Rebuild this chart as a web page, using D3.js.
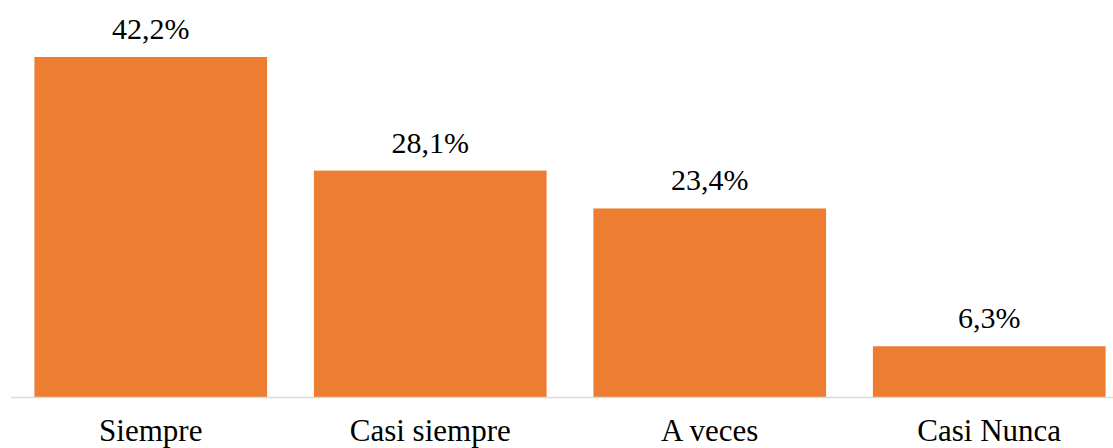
<!DOCTYPE html>
<html>
<head>
<meta charset="utf-8">
<script src="https://cdn.jsdelivr.net/npm/d3@7"></script>
<style>
  html, body { margin: 0; padding: 0; background: #fff; overflow: hidden; }
  svg { display: block; }
  .lbl { font-family: "Liberation Serif", serif; fill: #000; }
</style>
</head>
<body>
<script>
// Frequency distribution of responses (percent)
const categories = ["Siempre", "Casi siempre", "A veces", "Casi Nunca"];
const values = [42.2, 28.1, 23.4, 6.3];
const valueLabels = ["42,2%", "28,1%", "23,4%", "6,3%"];

const W = 1113, H = 448;
const baseY = 397;

const svg = d3.select("body").append("svg")
  .attr("width", W).attr("height", H);

const x = d3.scaleBand()
  .domain(categories)
  .range([11, 1129])
  .paddingInner(0.1675)
  .paddingOuter(0.08375);

const y = d3.scaleLinear()
  .domain([0, 42.2])
  .range([baseY, 57]);

// bars
svg.selectAll("rect.bar")
  .data(values)
  .join("rect")
  .attr("class", "bar")
  .attr("x", (d, i) => x(categories[i]))
  .attr("width", x.bandwidth())
  .attr("y", d => y(d))
  .attr("height", d => baseY - y(d))
  .attr("fill", "#ED7D31");

// baseline
svg.append("line")
  .attr("x1", 11).attr("x2", W)
  .attr("y1", baseY + 0.5).attr("y2", baseY + 0.5)
  .attr("stroke", "#d9d9d9")
  .attr("stroke-width", 1.3);

// value labels above bars
svg.selectAll("text.val")
  .data(values)
  .join("text")
  .attr("class", "val lbl")
  .attr("x", (d, i) => x(categories[i]) + x.bandwidth() / 2)
  .attr("y", d => y(d) - 18)
  .attr("text-anchor", "middle")
  .style("font-family", '"Liberation Serif"')
  .style("font-size", "30px")
  .text((d, i) => valueLabels[i]);

// category labels under the baseline
svg.selectAll("text.cat")
  .data(categories)
  .join("text")
  .attr("class", "cat lbl")
  .attr("x", d => x(d) + x.bandwidth() / 2)
  .attr("y", baseY + 44)
  .attr("text-anchor", "middle")
  .style("font-family", '"Liberation Serif"')
  .style("font-size", "31px")
  .text(d => d);
</script>
</body>
</html>
